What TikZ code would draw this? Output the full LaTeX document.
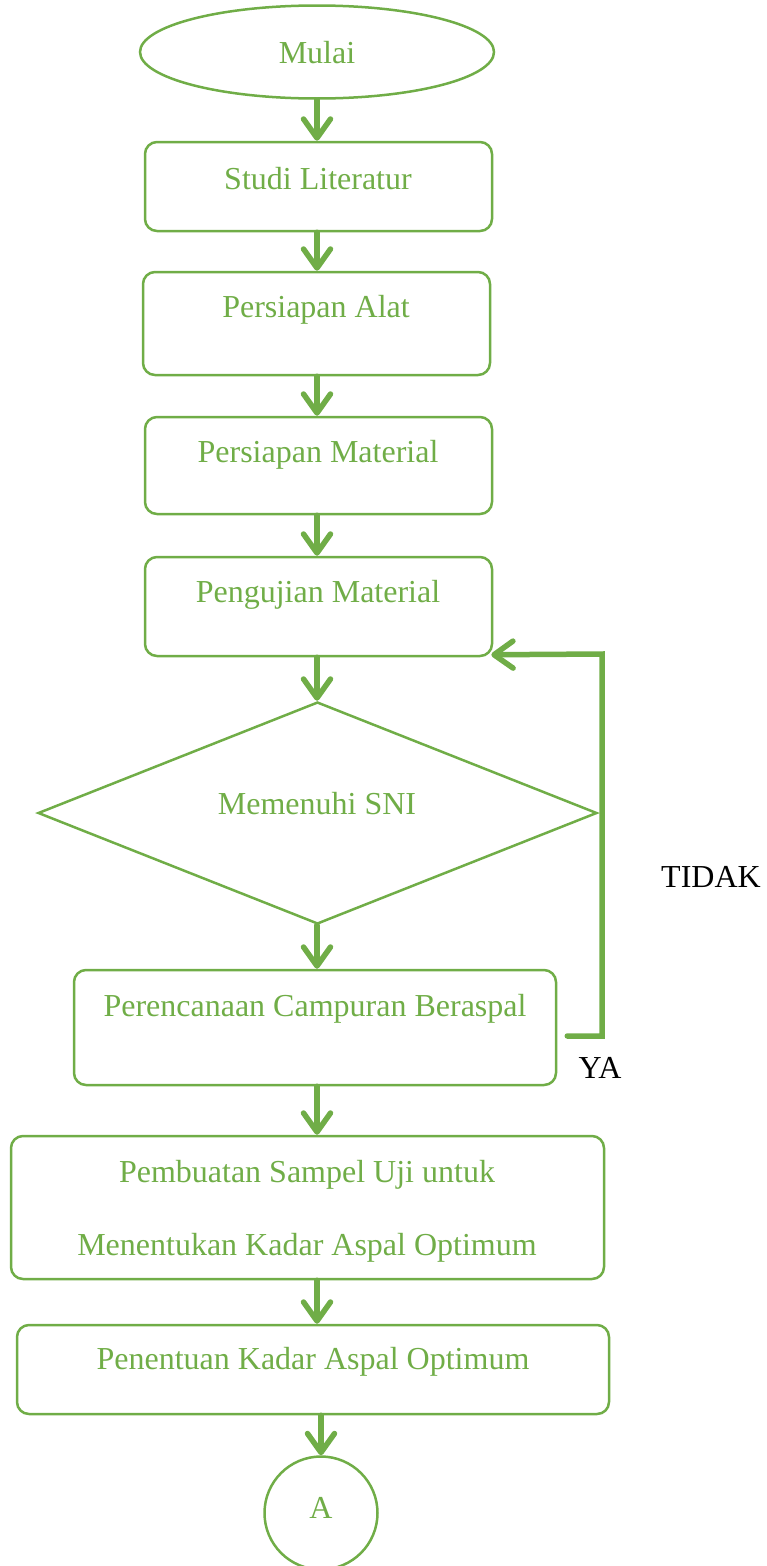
\documentclass[tikz,border=0pt]{standalone}
\usepackage{fontspec}
\setmainfont{Liberation Serif}
\definecolor{flowgreen}{HTML}{70AD47}
\usetikzlibrary{arrows.meta,positioning,shapes.geometric,calc}

\begin{document}
\begin{tikzpicture}[
  x=1pt,y=-1pt,
  font=\fontsize{32}{38}\selectfont,
  line width=2.5pt,draw=flowgreen,
  stepbox/.style={draw=flowgreen,rounded corners=12pt,inner sep=0pt},
  boxtext/.style={text=flowgreen,inner sep=0pt,align=center},
  flow/.style={draw=flowgreen,line width=5.5pt,line cap=round,line join=miter,
    -{Straight Barb[length=19pt,width=27pt,round]}}
]
\useasboundingbox (0,0) rectangle (766,1566);
% start
\node[ellipse,draw=flowgreen,inner sep=0pt,minimum width=354pt,minimum height=93pt]
  (ml) at (317,52) {};
\node[boxtext] (mlt) at (317,53) {Mulai};
% steps
\node[stepbox,minimum width=347pt,minimum height=89pt] (sl) at (318.5,186.5) {};
\node[boxtext] (slt) at (318,179) {Studi Literatur};
\node[stepbox,minimum width=347pt,minimum height=103pt] (pa) at (316.5,323.5) {};
\node[boxtext] (pat) at (316,310) {Persiapan Alat};
\node[stepbox,minimum width=347pt,minimum height=97pt] (pmat) at (318.5,465.5) {};
\node[boxtext] (pmatt) at (318,455) {Persiapan Material};
\node[stepbox,minimum width=347pt,minimum height=99pt] (pm) at (318.5,606.5) {};
\node[boxtext] (pmt) at (318,595) {Pengujian Material};
% decision
\node[diamond,draw=flowgreen,inner sep=0pt,aspect=2.518,
  minimum width=559pt,minimum height=222pt] (sni) at (317.5,813) {};
\node[boxtext] (snit) at (317,804) {Memenuhi SNI};
\node[stepbox,minimum width=482pt,minimum height=115pt] (pr) at (315,1027.5) {};
\node[boxtext] (prt) at (315,1009) {Perencanaan Campuran Beraspal};
\node[stepbox,minimum width=593pt,minimum height=143pt] (ps) at (307.5,1207.5) {};
\node[boxtext] (pst) at (307,1211)
  {Pembuatan Sampel Uji untuk\\[35pt]Menentukan Kadar Aspal Optimum};
\node[stepbox,minimum width=592pt,minimum height=89pt] (pk) at (313,1369.5) {};
\node[boxtext] (pkt) at (313,1362) {Penentuan Kadar Aspal Optimum};
% connector
\node[circle,draw=flowgreen,inner sep=0pt,minimum size=113pt] (ca) at (321,1513) {};
\node[boxtext] (cat) at (321,1508) {A};
% arrows
\draw[flow] (ml.south) -- (ml.south |- sl.north);
\draw[flow] (sl.south -| ml.south) -- (ml.south |- pa.north);
\draw[flow] (pa.south -| ml.south) -- (ml.south |- pmat.north);
\draw[flow] (pmat.south -| ml.south) -- (ml.south |- pm.north);
\draw[flow] (pm.south -| ml.south) -- (ml.south |- sni.north);
\draw[flow] (sni.south -| ml.south) -- (ml.south |- pr.north);
\draw[flow] (pr.south -| ml.south) -- (ml.south |- ps.north);
\draw[flow] (ps.south -| ml.south) -- (ml.south |- pk.north);
\draw[flow] (pk.south -| ca.north) -- (ca.north);
% loop back
\coordinate (tidak) at (602,654);
\draw[flow] ([xshift=10pt,yshift=-8.5pt]pr.east) -| (tidak)
  -- ([xshift=-2pt,yshift=2.5pt]pm.south east);
\node (tidakt) at (711,877) {TIDAK};
\node (yat) at (600,1068) {YA};
\end{tikzpicture}
\end{document}
